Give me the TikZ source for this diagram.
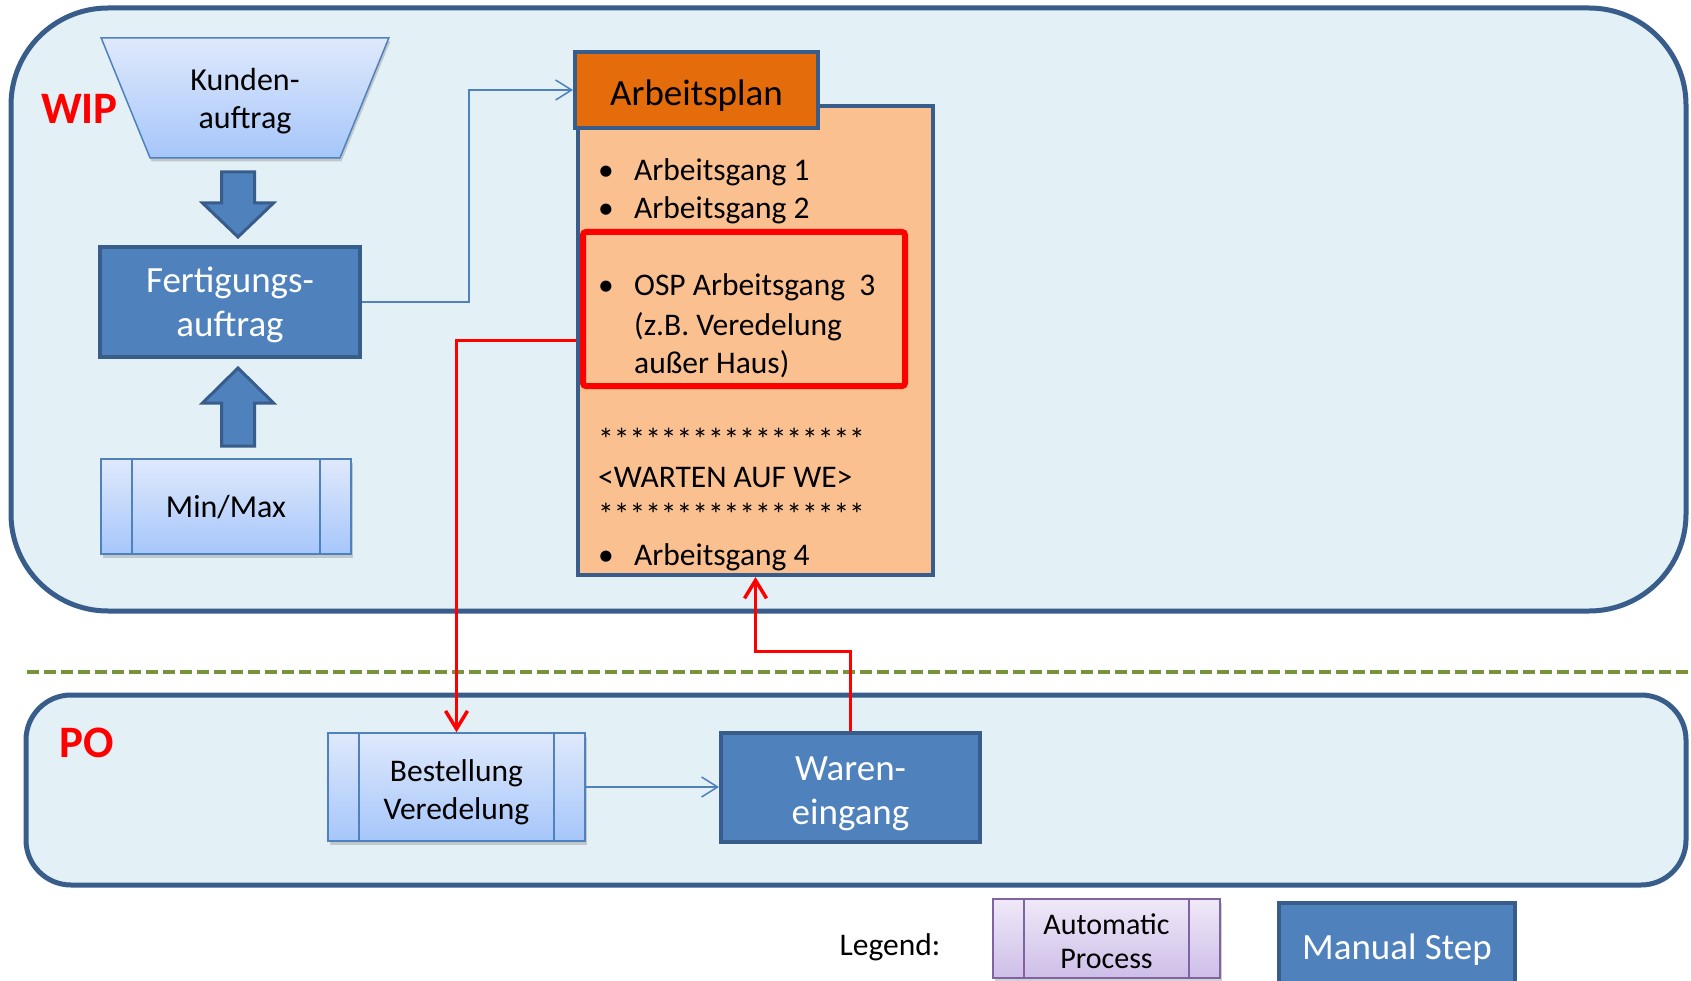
\documentclass[tikz,border=0pt]{standalone}
\usepackage{fontspec}
\setmainfont{Carlito}
\usepackage{tikz}
\usetikzlibrary{arrows.meta,shapes,positioning,shadows}
\definecolor{wpframe}{RGB}{56,93,138}
\definecolor{wplane}{RGB}{227,240,245}
\definecolor{wpblue}{RGB}{79,129,189}
\definecolor{wpgradtop}{RGB}{223,233,252}
\definecolor{wpgradbot}{RGB}{166,198,250}
\definecolor{wppurple}{RGB}{128,100,162}
\definecolor{wppurpletop}{RGB}{240,233,248}
\definecolor{wppurplebot}{RGB}{205,190,232}
\definecolor{wporange}{RGB}{228,108,10}
\definecolor{wppeach}{RGB}{250,192,144}
\definecolor{wpred}{RGB}{255,0,0}
\definecolor{wpgreen}{RGB}{119,147,60}
\newcommand{\planbullet}{\llap{\makebox[36pt][l]{•}}}
\tikzstyle{lane} = [rectangle, draw=wpframe, fill=wplane, line width=5pt, inner sep=0pt]
\tikzstyle{lanelabel} = [anchor=base, inner sep=0pt, text=wpred, font=\fontsize{45}{54}\selectfont\bfseries]
\tikzstyle{manualstep} = [rectangle, draw=wpframe, fill=wpblue, line width=4pt, inner sep=0pt, align=center, text=white, font=\fontsize{37}{44}\selectfont]
\tikzstyle{blockarrow} = [draw=wpframe, fill=wpblue, line width=3pt, line join=miter]
\tikzstyle{planitem} = [anchor=base west, inner sep=0pt, font=\fontsize{31.5}{38}\selectfont]
\tikzstyle{flow} = [line width=1.5pt, draw=wpblue, -{Straight Barb[length=16pt,width=20pt]}]
\tikzstyle{osp} = [line width=3.5pt, draw=wpred, -{Straight Barb[length=18pt,width=22pt]}]
\tikzset{autoproc/.style={rectangle, draw=#1, line width=1.5pt, inner sep=0pt, align=center,
    font=\fontsize{31.5}{38}\selectfont,
    drop shadow={shadow xshift=1.5pt, shadow yshift=-3.5pt, opacity=0.35},
    path picture={\draw[#1, line width=1.5pt]
      ([xshift=31pt]path picture bounding box.north west) -- ([xshift=31pt]path picture bounding box.south west)
      ([xshift=-31pt]path picture bounding box.north east) -- ([xshift=-31pt]path picture bounding box.south east);}}}

\begin{document}
\begin{tikzpicture}[x=1pt, y=-1pt]
\useasboundingbox (0,0) rectangle (1691,981);
\fill[white] (0,0) rectangle (1691,981);

\node (wiplane) [lane, rounded corners=97pt, minimum width=1675pt, minimum height=603pt] at (848.5,309.5) {};
\node (polane) [lane, rounded corners=45pt, minimum width=1660pt, minimum height=190pt] at (856,790) {};
\draw[wpgreen, line width=4pt, dash pattern=on 12pt off 5pt] (27,672) -- (1688,672);

\node (wip) [lanelabel] at (79.5,124) {WIP};
\node (po) [lanelabel] at (86.5,757) {PO};

\node (kunden) [trapezium, trapezium stretches=true, shape border rotate=180, trapezium left angle=65, trapezium right angle=65,
  minimum width=288pt, minimum height=120pt, inner sep=0pt, draw=wpblue, line width=1.5pt, top color=wpgradtop, bottom color=wpgradbot,
  drop shadow={shadow xshift=1.5pt, shadow yshift=-3.5pt, opacity=0.35}, align=center, text depth=0pt, font=\fontsize{32}{38}\selectfont]
  at (245,98) {Kunden-\\auftrag};
\node (prod) [manualstep, text depth=0pt, minimum width=260pt, minimum height=110pt] at (230,302) {Fertigungs-\\auftrag};
\node (minmax) [autoproc=wpblue, text depth=0pt, top color=wpgradtop, bottom color=wpgradbot, minimum width=250pt, minimum height=95pt,
  font=\fontsize{32}{38}\selectfont] at (226,506.5) {Min/Max};

\draw[blockarrow] (221.5,172) -- (254.5,172) -- (254.5,203) -- (273.5,203) -- (238,237) -- (202.5,203) -- (221.5,203) -- cycle;
\draw[blockarrow] (238,368) -- (273.5,403) -- (254.5,403) -- (254.5,446) -- (221.5,446) -- (221.5,403) -- (202.5,403) -- cycle;

\node (plan) [rectangle, draw=wpframe, fill=wppeach, line width=4pt, minimum width=355pt, minimum height=469pt] at (755.5,340.5) {};
\node (ospframe) [rectangle, draw=wpred, line width=6pt, rounded corners=3pt, minimum width=322pt, minimum height=154pt] at (744,309) {};
\node (planhead) [rectangle, draw=wpframe, fill=wporange, line width=4pt, minimum width=243pt, minimum height=76pt, inner sep=0pt,
  text height=32pt, text depth=0pt, font=\fontsize{37}{44}\selectfont] at (696.5,90) {Arbeitsplan};

\node (ag1) [planitem] at (634,181) {\planbullet Arbeitsgang 1};
\node (ag2) [planitem] at (634,219) {\planbullet Arbeitsgang 2};
\node (osp1) [planitem] at (634,296) {\planbullet OSP Arbeitsgang\ \ 3};
\node (osp2) [planitem] at (634,335) {(z.B. Veredelung};
\node (osp3) [planitem] at (634,373) {außer Haus)};
\node (stars1) [planitem] at (598,450) {*****************};
\node (wait) [planitem] at (598,487) {<WARTEN AUF WE>};
\node (stars2) [planitem] at (598,525) {*****************};
\node (ag4) [planitem] at (634,565) {\planbullet Arbeitsgang 4};

\node (order) [autoproc=wpblue, text height=65.5pt, text depth=0pt, top color=wpgradtop, bottom color=wpgradbot, minimum width=257pt, minimum height=108pt] at (456.5,787) {Bestellung\\Veredelung};
\node (goods) [manualstep, text height=74pt, text depth=0pt, minimum width=259pt, minimum height=109pt] at (850.5,787) {Waren-\\eingang};

\draw[flow] (prod.east) -- ++(107,0) |- (planhead.west);
\draw[flow] (order.east) -- (goods.west);
\draw[osp] (plan.west) -| (order.north);
\draw[osp] (goods.north) -- ++(0,-79) -| (plan.south);

\node (legend) [anchor=base, inner sep=0pt, font=\fontsize{31.5}{38}\selectfont] at (890,955) {Legend:};
\node (legauto) [autoproc=wppurple, top color=wppurpletop, bottom color=wppurplebot, minimum width=227pt, minimum height=79pt,
  text height=60pt, text depth=0pt, font=\fontsize{30}{34}\selectfont] at (1106.5,938.5) {Automatic\\Process};
\node (legmanual) [manualstep, text depth=2pt, minimum width=236pt, minimum height=90pt] at (1397,948) {Manual Step};
\end{tikzpicture}
\end{document}
